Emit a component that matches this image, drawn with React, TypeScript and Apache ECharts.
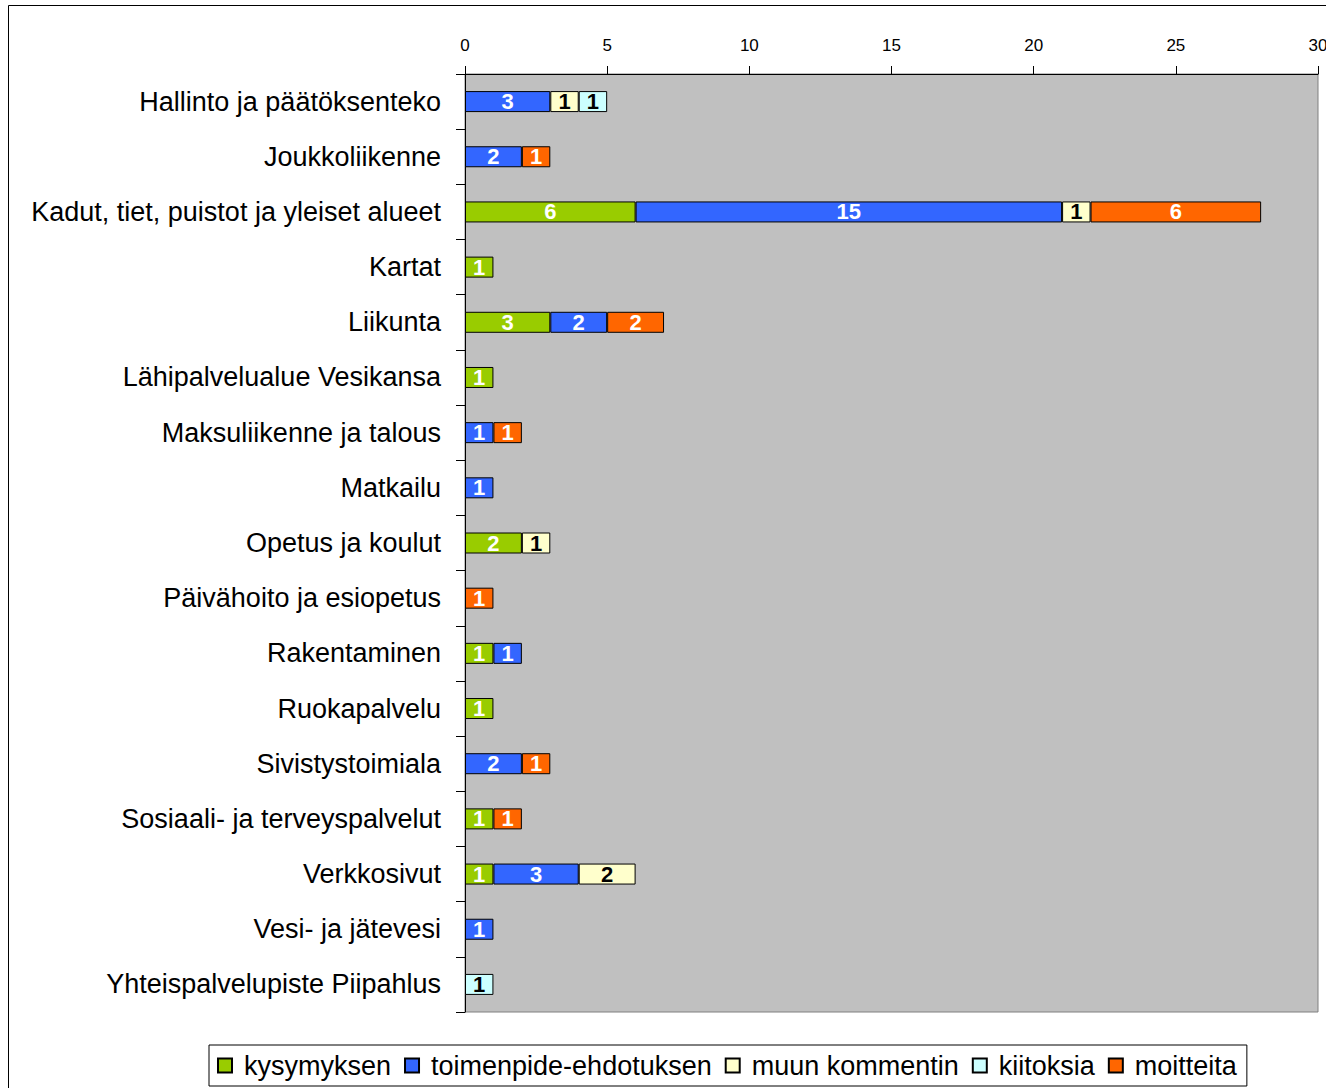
import React, { useEffect, useRef } from "react";
import * as echarts from "echarts";

const categories = [
  "Hallinto ja päätöksenteko",
  "Joukkoliikenne",
  "Kadut, tiet, puistot ja yleiset alueet",
  "Kartat",
  "Liikunta",
  "Lähipalvelualue Vesikansa",
  "Maksuliikenne ja talous",
  "Matkailu",
  "Opetus ja koulut",
  "Päivähoito ja esiopetus",
  "Rakentaminen",
  "Ruokapalvelu",
  "Sivistystoimiala",
  "Sosiaali- ja terveyspalvelut",
  "Verkkosivut",
  "Vesi- ja jätevesi",
  "Yhteispalvelupiste Piipahlus",
];

const seriesNames = ["kysymyksen", "toimenpide-ehdotuksen", "muun kommentin", "kiitoksia", "moitteita"];

const kysymyksen = [null, null, 6, 1, 3, 1, null, null, 2, null, 1, 1, null, 1, 1, null, null];
const toimenpide = [3, 2, 15, null, 2, null, 1, 1, null, null, 1, null, 2, null, 3, 1, null];
const muunKommentin = [1, null, 1, null, null, null, null, null, 1, null, null, null, null, null, 2, null, null];
const kiitoksia = [1, null, null, null, null, null, null, null, null, null, null, null, null, null, null, null, 1];
const moitteita = [null, 1, 6, null, 2, null, 1, null, null, 1, null, null, 1, 1, null, null, null];

const seriesData = [kysymyksen, toimenpide, muunKommentin, kiitoksia, moitteita];
const colors = ["#99CC00", "#3366FF", "#FFFFCC", "#CCFFFF", "#FF6600"];
const labelColors = ["#FFFFFF", "#FFFFFF", "#000000", "#000000", "#FFFFFF"];

const FONT = "Liberation Sans, Arial, sans-serif";

export default function App() {
  const ref = useRef<HTMLDivElement>(null);
  useEffect(() => {
    if (!ref.current) return;
    const chart = echarts.init(ref.current, undefined, { renderer: "svg" });
    chart.setOption({
      animation: false,
      textStyle: { fontFamily: FONT },
      grid: {
        left: 465,
        right: 8,
        top: 74,
        bottom: 76,
        outerBoundsMode: "none",
        containLabel: false,
        show: true,
        backgroundColor: "#C0C0C0",
        borderColor: "#808080",
        borderWidth: 1,
      },
      graphic: [
        {
          type: "rect",
          shape: { x: 8.5, y: 5.5, width: 1400, height: 1200 },
          style: { fill: "none", stroke: "#000", lineWidth: 1 },
          z: -10,
        },
      ],
      legend: {
        left: 209,
        top: 1045,
        orient: "horizontal",
        icon: "rect",
        itemWidth: 14,
        itemHeight: 14,
        itemGap: 13,
        padding: [7, 10, 7, 8],
        borderColor: "#000",
        borderWidth: 1,
        backgroundColor: "#FFFFFF",
        textStyle: { fontSize: 27, color: "#000", fontFamily: FONT, padding: [0, 0, 0, 7] },
        data: seriesNames,
      },
      xAxis: {
        type: "value",
        position: "top",
        min: 0,
        max: 30,
        interval: 5,
        axisLine: { show: true, lineStyle: { color: "#000", width: 1 } },
        axisTick: { show: true, inside: false, length: 8, lineStyle: { color: "#000" } },
        axisLabel: { fontSize: 17, color: "#000", margin: 20, fontFamily: FONT },
        splitLine: { show: false },
      },
      yAxis: {
        type: "category",
        inverse: true,
        data: categories,
        axisLine: { show: true, lineStyle: { color: "#000", width: 1 } },
        axisTick: { show: true, inside: false, length: 9, alignWithLabel: false, lineStyle: { color: "#000" } },
        axisLabel: { fontSize: 27, color: "#000", margin: 24, fontFamily: FONT },
        splitLine: { show: false },
      },
      series: seriesNames.map((name, i) => ({
        name,
        type: "bar",
        stack: "total",
        barWidth: 21,
        data: seriesData[i],
        itemStyle: { color: colors[i], borderColor: "#000", borderWidth: 1 },
        label: {
          show: true,
          position: "inside",
          color: labelColors[i],
          fontSize: 22,
          fontWeight: "bold",
          fontFamily: FONT,
        },
      })),
    });
    return () => chart.dispose();
  }, []);
  return (
    <div
      ref={ref}
      style={{ position: "absolute", left: 0, top: 0, width: 1326, height: 1088, background: "#fff" }}
    />
  );
}
